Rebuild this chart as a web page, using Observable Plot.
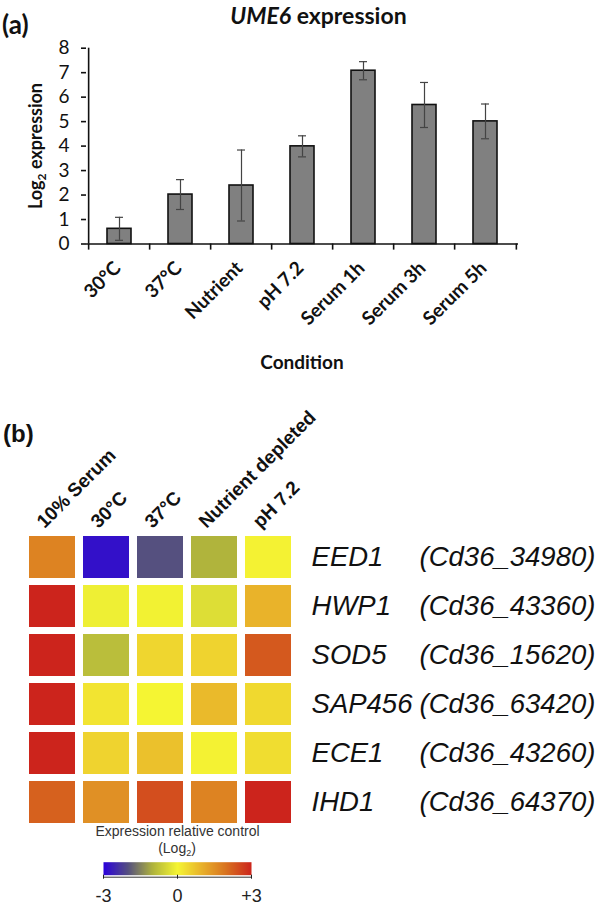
<!DOCTYPE html>
<html>
<head>
<meta charset="utf-8">
<script src="https://cdn.jsdelivr.net/npm/d3@7"></script>
<script src="https://cdn.jsdelivr.net/npm/@observablehq/plot@0.6"></script>
<style>
  html, body { margin: 0; padding: 0; background: #fff; }
  #wrap { position: relative; width: 596px; height: 906px; overflow: hidden; background: #fff; }
  #wrap > svg, #wrap > figure { position: absolute; left: 0; margin: 0; }
  #wrap svg { background: transparent !important; }
</style>
</head>
<body>
<div id="wrap"></div>
<script>
// ---------- Panel (a) data ----------
const conditions = ["30°C", "37°C", "Nutrient", "pH 7.2", "Serum 1h", "Serum 3h", "Serum 5h"];
const log2Expression = [0.62, 2.02, 2.39, 3.99, 7.08, 5.68, 5.01];
const errors = [0.47, 0.61, 1.45, 0.43, 0.37, 0.92, 0.71];
const yTicks = [0, 1, 2, 3, 4, 5, 6, 7, 8];

// ---------- Panel (b) data ----------
const heatConditions = ["10% Serum", "30°C", "37°C", "Nutrient depleted", "pH 7.2"];
const genes = ["EED1", "HWP1", "SOD5", "SAP456", "ECE1", "IHD1"];
const geneIds = ["(Cd36_34980)", "(Cd36_43360)", "(Cd36_15620)", "(Cd36_63420)", "(Cd36_43260)", "(Cd36_64370)"];
const eed1 = [1.7, -2.8, -2.0, -1.0, 0.05];
const hwp1 = [3.0, -0.1, -0.05, -0.35, 0.95];
const sod5 = [3.0, -0.85, 0.45, 0.5, 2.3];
const sap456 = [3.0, 0.25, 0.0, 0.85, 0.4];
const ece1 = [3.0, 0.5, 0.75, 0.05, 0.35];
const ihd1 = [2.2, 1.5, 2.45, 1.7, 3.0];
const geneRows = [eed1, hwp1, sod5, sap456, ece1, ihd1];
const legendTicks = [-3, 0, 3];
const colorStops = [-3, -2, -1, 0, 1, 2, 3];
const colorRange = ["#2a00dc", "#55507f", "#b0b43c", "#f5f533", "#e8b02a", "#d8701f", "#cc241c"];

const wrap = document.getElementById("wrap");
const calibri = "Lato, 'Open Sans', sans-serif";
const arial = "'Liberation Sans', Arial, sans-serif";

// ---------- Bar chart ----------
const barData = conditions.map((c, i) => ({c, v: log2Expression[i], e: errors[i]}));
const W = 596, mL = 86, mR = 78;
const step = (W - mL - mR) / conditions.length;
const barPlot = Plot.plot({
  width: W, height: 380,
  marginLeft: mL, marginRight: mR, marginTop: 47.7, marginBottom: 136.5,
  style: {fontFamily: calibri, background: "transparent", color: "#111"},
  x: {domain: conditions, paddingInner: 0.6, paddingOuter: 0.3, label: null},
  y: {domain: [0, 8], label: null},
  marks: [
    Plot.barY(barData, {x: "c", y: "v", fill: "#808080", stroke: "#111", strokeWidth: 1.6}),
    Plot.ruleX(barData, {x: "c", y1: d => d.v - d.e, y2: d => d.v + d.e, stroke: "#444", strokeWidth: 1.2}),
    Plot.tickY(barData, {x: "c", y: d => d.v + d.e, insetLeft: 8, insetRight: 8, stroke: "#444", strokeWidth: 1.2}),
    Plot.tickY(barData, {x: "c", y: d => d.v - d.e, insetLeft: 8, insetRight: 8, stroke: "#444", strokeWidth: 1.2}),
    Plot.ruleY([0], {stroke: "#111", strokeWidth: 1.6}),
    Plot.ruleX([conditions[0]], {x: d => d, dx: -step / 2, stroke: "#111", strokeWidth: 1.6}),
    Plot.ruleX(conditions, {x: d => d, y1: 0, y2: -0.25, dx: -step / 2, stroke: "#111", strokeWidth: 1.6}),
    Plot.ruleX([conditions[conditions.length - 1]], {x: d => d, y1: 0, y2: -0.25, dx: step / 2, stroke: "#111", strokeWidth: 1.6}),
    Plot.axisY({ticks: yTicks, tickSize: 5, tickPadding: 12, fontSize: 19, tickFormat: d => String(d), strokeWidth: 1.6}),
    Plot.axisX({tickSize: 0, tickPadding: 21, tickRotate: -45, fontSize: 19, fontWeight: "bold", dx: -2, label: null})
  ]
});
barPlot.style.top = "0px";
wrap.appendChild(barPlot);

// ---------- Heatmap ----------
const colorScale = {type: "linear", domain: colorStops, range: colorRange, interpolate: "rgb"};
const cells = [];
genes.forEach((g, i) => heatConditions.forEach((c, j) => cells.push({g, c, v: geneRows[i][j]})));
const hmTop = 380;
const hW = 596, hmL = 24.15, hmR = 300.35;
const hmPlot = Plot.plot({
  width: hW, height: 526,
  marginLeft: hmL, marginRight: hmR, marginTop: 151.6, marginBottom: 78.6,
  style: {fontFamily: arial, background: "transparent", color: "#111"},
  x: {domain: heatConditions, paddingInner: 0.153, paddingOuter: 0.0765, axis: null},
  y: {domain: genes, paddingInner: 0.138, paddingOuter: 0.069, axis: null},
  color: colorScale,
  marks: [
    Plot.cell(cells, {x: "c", y: "g", fill: "v", inset: 0}),
    Plot.text(heatConditions, {x: d => d, frameAnchor: "top", rotate: -45, textAnchor: "start", lineAnchor: "bottom",
      dx: -8, dy: -3, fontSize: 19, fontWeight: "bold", fill: "#111"}),
    Plot.text(genes, {y: d => d, frameAnchor: "right", textAnchor: "start", dx: 15.4, fontSize: 27.5, fontStyle: "italic", fill: "#111"}),
    Plot.text(genes, {y: d => d, text: (d, i) => geneIds[i], frameAnchor: "right", textAnchor: "start", dx: 123.4, fontSize: 27.5, fontStyle: "italic", fill: "#111"})
  ]
});
hmPlot.style.top = hmTop + "px";
wrap.appendChild(hmPlot);

// ---------- Color legend ----------
const legPlot = Plot.plot({
  width: 596, height: 60,
  marginLeft: 103, marginRight: 345, marginTop: 6.7, marginBottom: 40.3,
  style: {fontFamily: arial, background: "transparent", color: "#222"},
  x: {domain: [legendTicks[0], legendTicks[legendTicks.length - 1]], label: null},
  y: {domain: [0, 1], axis: null},
  color: colorScale,
  marks: [
    Plot.raster({fill: (x, y) => x, x1: -3, x2: 3, y1: 0, y2: 1, width: 148, height: 1, imageRendering: "auto"}),
    Plot.ruleY([0], {dy: 2, stroke: "#333", strokeWidth: 1}),
    Plot.axisX({ticks: legendTicks, tickSize: 4, tickPadding: 10, fontSize: 18, tickFormat: d => d > 0 ? "+" + d : String(d), label: null})
  ]
});
legPlot.style.top = "855px";
wrap.appendChild(legPlot);

// ---------- Titles / labels overlay ----------
const ns = "http://www.w3.org/2000/svg";
const ov = document.createElementNS(ns, "svg");
ov.setAttribute("width", 596); ov.setAttribute("height", 906);
ov.style.position = "absolute"; ov.style.left = "0"; ov.style.top = "0"; ov.style.pointerEvents = "none";
function txt(x, y, parts, opts = {}) {
  const t = document.createElementNS(ns, "text");
  t.setAttribute("x", x); t.setAttribute("y", y);
  t.setAttribute("font-family", opts.family || calibri);
  t.setAttribute("font-size", opts.size || 16);
  if (opts.weight) t.setAttribute("font-weight", opts.weight);
  t.setAttribute("text-anchor", opts.anchor || "start");
  t.setAttribute("fill", opts.fill || "#111");
  if (opts.transform) t.setAttribute("transform", opts.transform);
  for (const p of parts) {
    const s = document.createElementNS(ns, "tspan");
    s.textContent = p.t;
    if (p.style) s.setAttribute("font-style", p.style);
    if (p.size) s.setAttribute("font-size", p.size);
    if (p.dy) s.setAttribute("dy", p.dy);
    t.appendChild(s);
  }
  ov.appendChild(t);
}
txt(2, 34, [{t: "(a)"}], {size: 26, weight: "bold"});
txt(318.5, 24, [{t: "UME6", style: "italic"}, {t: " expression"}], {size: 23, weight: "bold", anchor: "middle"});
txt(0, 0, [{t: "Log"}, {t: "2", size: 12, dy: 4}, {t: " expression", dy: -4}], {size: 18, weight: "bold", anchor: "middle", transform: "translate(42,146) rotate(-90)"});
txt(302, 369, [{t: "Condition"}], {size: 19, weight: "bold", anchor: "middle"});
txt(3, 442, [{t: "(b)"}], {size: 24, weight: "bold", family: arial});
txt(177.5, 836, [{t: "Expression relative control"}], {size: 14, family: arial, anchor: "middle", fill: "#333"});
txt(177, 853, [{t: "(Log"}, {t: "2", size: 9, dy: 3}, {t: ")", dy: -3}], {size: 14, family: arial, anchor: "middle", fill: "#333"});
wrap.appendChild(ov);
</script>
</body>
</html>
